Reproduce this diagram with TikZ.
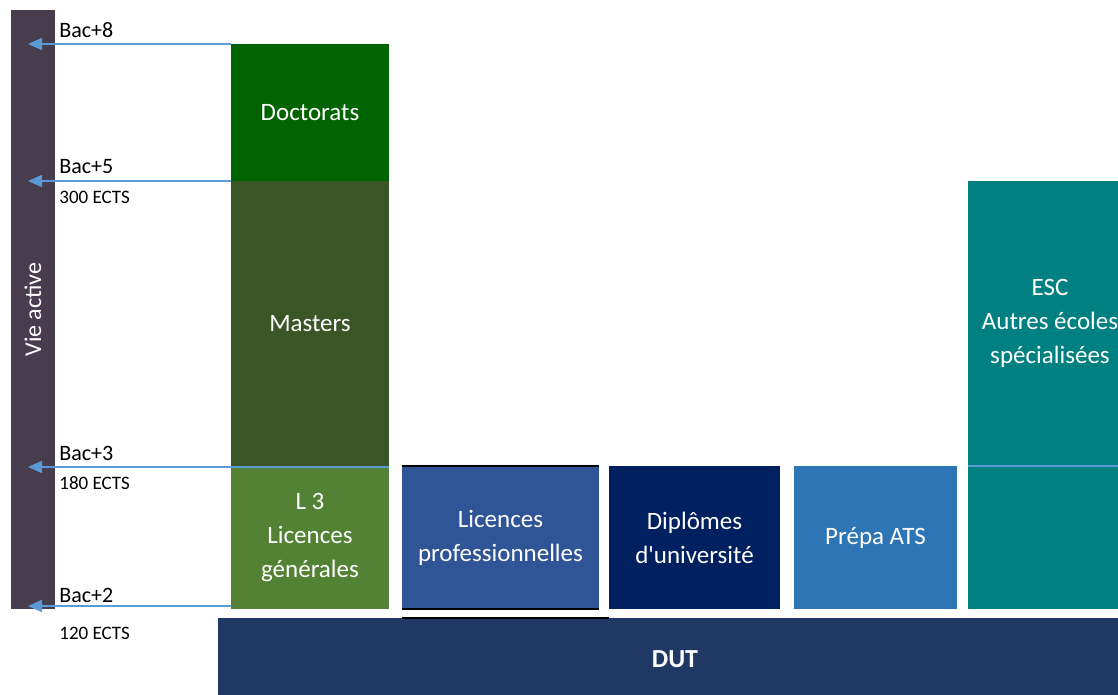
\documentclass[tikz,border=0pt]{standalone}
\usepackage{fontspec}
\setmainfont{Carlito}
\usetikzlibrary{calc,arrows.meta}
\definecolor{vieactive}{HTML}{483D4F}
\definecolor{doctorat}{HTML}{006400}
\definecolor{master}{HTML}{3A5526}
\definecolor{licence}{HTML}{548235}
\definecolor{licpro}{HTML}{2F5597}
\definecolor{diplome}{HTML}{002060}
\definecolor{prepa}{HTML}{2E75B6}
\definecolor{ecole}{HTML}{008080}
\definecolor{dutbleu}{HTML}{203864}
\definecolor{fleche}{HTML}{5B9BD5}
\tikzset{
	bloc/.style={inner sep=0pt,outer sep=0pt,text=white,align=center,font=\fontsize{12.5}{17}\selectfont},
	niveau/.style={anchor=west,inner sep=0pt,font=\fontsize{11}{13}\selectfont},
	ects/.style={niveau,font=\fontsize{9.5}{11}\selectfont},
	lien/.style={draw=fleche,line width=0.75pt,-{Triangle[length=7pt,width=6pt]}},
	trait/.style={draw=black,line width=0.75pt}
}
\newcommand{\makebloc}[7]{
	\node (#1) at (#2,#3) [bloc,fill=#4,minimum width=#5,minimum height=#6] {#7};
}

\begin{document}
\begin{tikzpicture}[x=0.5pt,y=-0.5pt]
		\useasboundingbox (0,0) rectangle (1118,695);
		\fill[white] (0,0) rectangle (1118,695);
		\clip (0,0) rectangle (1118,695);
		\makebloc{vie}{33}{309.5}{vieactive}{22pt}{299.5pt}{}
		\node (vietxt) at (vie) [bloc,rotate=90,font=\fontsize{12}{14}\selectfont] {Vie active};
		\makebloc{doct}{310}{112.5}{doctorat}{79pt}{68.5pt}{Doctorats}
		\makebloc{mast}{310}{324}{master}{79pt}{143pt}{Masters}
		\makebloc{lic3}{310}{538}{licence}{79pt}{71pt}{L 3\\Licences\\générales}
		\makebloc{lpro}{500.5}{537.5}{licpro}{98.5pt}{71.5pt}{Licences\\professionnelles}
		\makebloc{dipl}{694.5}{537.5}{diplome}{85.5pt}{71.5pt}{Diplômes\\d\textquotesingle université}
		\makebloc{prep}{875.5}{537.5}{prepa}{81.5pt}{71.5pt}{Prépa ATS}
		\makebloc{escA}{1050}{323.5}{ecole}{82pt}{142.5pt}{ESC\\Autres écoles\\spécialisées}
		\makebloc{escB}{1050}{537.5}{ecole}{82pt}{71.5pt}{}
		\makebloc{dut}{675}{659}{dutbleu}{457pt}{41pt}{\fontsize{13}{15}\selectfont\bfseries DUT}
		\draw[trait] (lpro.north west) -- (lpro.north east);
		\draw[trait] (lpro.south west) -- (lpro.south east);
		\draw[trait] (lpro.south west |- dut.north) -- (dipl.south west |- dut.north);
		\draw[draw=fleche,line width=0.75pt] (escB.north west) -- (escB.north east);
		\coordinate (b8) at ($(doct.north west -| vie.center)+(-5,0)$);
		\coordinate (b5) at ($(mast.north west -| vie.center)+(-5,0)$);
		\coordinate (b3) at ($(mast.south east -| vie.center)+(-5,0)$);
		\coordinate (d2) at ($(lic3.south west)+(0,-3)$);
		\coordinate (b2) at ($(d2 -| vie.center)+(-5,0)$);
		\draw[lien] (doct.north west) -- (b8);
		\draw[lien] (mast.north west) -- (b5);
		\draw[lien] (mast.south east) -- (b3);
		\draw[lien] (d2) -- (b2);
		\node (n8) [niveau] at ($(b8 -| vie.east)+(4,-14)$) {Bac+8};
		\node (n5) [niveau] at ($(b5 -| vie.east)+(4,-14)$) {Bac+5};
		\node (e5) [ects] at ($(b5 -| vie.east)+(4,16)$) {300 ECTS};
		\node (n3) [niveau] at ($(b3 -| vie.east)+(4,-14)$) {Bac+3};
		\node (e3) [ects] at ($(b3 -| vie.east)+(4,16)$) {180 ECTS};
		\node (n2) [niveau] at ($(b2 -| vie.east)+(4,-11)$) {Bac+2};
		\node (e2) [ects] at ($(b2 -| vie.east)+(4,27)$) {120 ECTS};
	\end{tikzpicture}
\end{document}
